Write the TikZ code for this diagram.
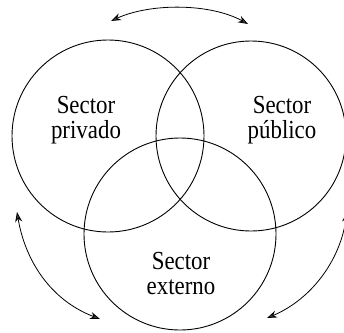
\documentclass[tikz,border=0pt]{standalone}
\usepackage{fontspec}
\setmainfont{Liberation Serif}
\newfontfamily\lblfont[FakeStretch=0.88]{Liberation Serif}
\usetikzlibrary{arrows.meta}
\begin{document}
\begin{tikzpicture}[x=1pt,y=-1pt,
  ring/.style={circle,draw,line width=0.9pt,minimum size=#1,inner sep=0pt},
  lbl/.style={align=center,font=\lblfont\fontsize{26}{25}\selectfont,inner sep=0pt},
  flow/.style={line width=0.8pt,{Stealth[length=10pt,width=7pt,fill=black!75]}-{Stealth[length=10pt,width=7pt,fill=black!75]}}]
\useasboundingbox (0,0) rectangle (344,332);
\node[ring=192pt] (priv) at (108,136) {};
\node[ring=190pt] (pub) at (251,136) {};
\node[ring=192pt] (ext) at (180,234) {};
\node[lbl] (tpriv) at (86,120) {Sector\\privado};
\node[lbl] (tpub) at (282,120) {Sector\\público};
\node[lbl] (text) at (181,274) {Sector\\externo};
\coordinate (a1) at (111,21);
\coordinate (a2) at (248,24);
\coordinate (b1) at (17,212);
\coordinate (b2) at (100,319);
\coordinate (c1) at (347,212);
\coordinate (c2) at (267,318);
\draw[flow] (a1) .. controls (150,3) and (210,3) .. (a2);
\draw[flow] (b1) .. controls (25,260) and (50,300) .. (b2);
\draw[flow] (c1) .. controls (340,262) and (310,300) .. (c2);
\end{tikzpicture}
\end{document}
